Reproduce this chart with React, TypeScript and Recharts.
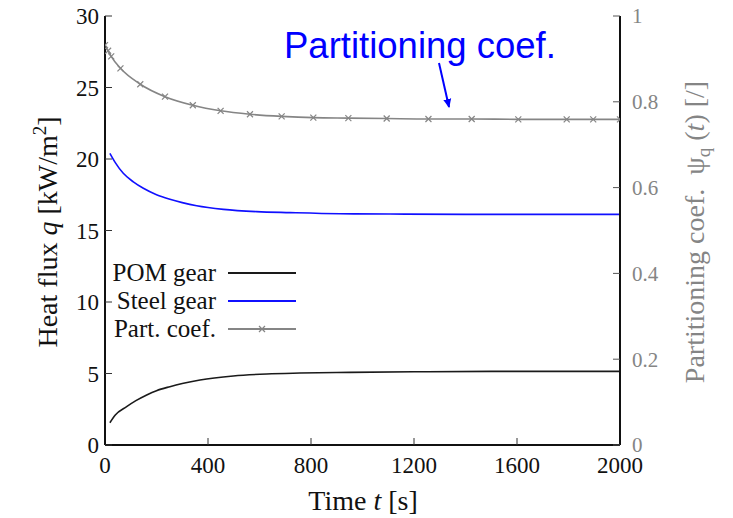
import React from 'react';
import { LineChart, Line, XAxis, YAxis } from 'recharts';

// 時間軸・目盛り
const timeTicks = [0, 400, 800, 1200, 1600, 2000];
const fluxTicks = [0, 5, 10, 15, 20, 25, 30];
const coefTicks = [0, 0.2, 0.4, 0.6, 0.8, 1];

// POM gear heat flux [kW/m2]
const pomTime = [19, 40, 84, 120, 162, 200, 252, 300, 369, 498, 628, 757, 951, 1200, 1500, 2000];
const pomFlux = [1.56, 2.1, 2.68, 3.1, 3.5, 3.8, 4.08, 4.3, 4.55, 4.83, 4.97, 5.03, 5.08, 5.12, 5.15, 5.15];

// Steel gear heat flux [kW/m2]
const steelTime = [19, 40, 71, 110, 149, 200, 252, 300, 356, 460, 589, 718, 913, 1107, 1400, 1700, 2000];
const steelFlux = [20.4, 19.75, 19.0, 18.4, 17.95, 17.5, 17.18, 16.95, 16.73, 16.48, 16.32, 16.25, 16.17, 16.15, 16.13, 16.13, 16.13];

// Partitioning coefficient psi_q(t) [-]
const coefTime = [0, 12, 24, 60, 137, 233, 341, 449, 563, 686, 809, 945, 1094, 1256, 1424, 1605, 1793, 1896, 2000];
const coefValue = [0.932, 0.919, 0.906, 0.878, 0.841, 0.812, 0.792, 0.779, 0.771, 0.766, 0.763, 0.762, 0.761, 0.76, 0.76, 0.759, 0.759, 0.759, 0.759];

const toPoints = (xs: number[], ys: number[]) => xs.map((t, i) => ({ t, v: ys[i] }));

const pomData = toPoints(pomTime, pomFlux);
const steelData = toPoints(steelTime, steelFlux);
const coefData = toPoints(coefTime, coefValue);

const SERIF = 'Liberation Serif';
const SANS = 'Liberation Sans';
const GRAY = '#858585';
const BLUE = '#1010ff';

const legendRows = [
  { name: 'POM gear', color: '#1a1a1a', marker: false },
  { name: 'Steel gear', color: BLUE, marker: false },
  { name: 'Part. coef.', color: GRAY, marker: true },
];

// × マーカー
const CrossDot = (props: any) => {
  const { cx, cy, index } = props;
  if (cx == null || cy == null) return null;
  const s = 3;
  return (
    <g key={`x-${index}`} stroke={GRAY} strokeWidth={1.2}>
      <line x1={cx - s} y1={cy - s} x2={cx + s} y2={cy + s} />
      <line x1={cx - s} y1={cy + s} x2={cx + s} y2={cy - s} />
    </g>
  );
};

const tickFont = { fontFamily: SERIF, fontSize: 23 };

export default function App() {
  return (
    <div style={{ position: 'absolute', left: 0, top: 0, width: 733, height: 518, background: '#fff' }}>
      <LineChart width={733} height={518} margin={{ top: 16, right: 0, bottom: 0, left: 0 }}>
        <XAxis
          dataKey="t"
          type="number"
          domain={[0, 2000]}
          ticks={timeTicks}
          allowDataOverflow
          height={73}
          tickSize={-7}
          tickMargin={19}
          axisLine={{ stroke: '#111', strokeWidth: 2 }}
          tickLine={{ stroke: '#333' }}
          tick={{ fill: '#111', style: tickFont }}
        />
        <XAxis
          xAxisId="top"
          orientation="top"
          dataKey="t"
          type="number"
          domain={[0, 2000]}
          ticks={timeTicks}
          height={0}
          tickSize={-7}
          tick={false}
          axisLine={{ stroke: '#111', strokeWidth: 2 }}
          tickLine={{ stroke: '#333' }}
        />
        <YAxis
          yAxisId="flux"
          domain={[0, 30]}
          ticks={fluxTicks}
          width={105}
          tickSize={-7}
          tickMargin={13}
          axisLine={{ stroke: '#111', strokeWidth: 2 }}
          tickLine={{ stroke: '#333' }}
          tick={{ fill: '#111', style: tickFont }}
        />
        <YAxis
          yAxisId="coef"
          orientation="right"
          domain={[0, 1]}
          ticks={coefTicks}
          width={113}
          tickSize={-7}
          tickMargin={19}
          axisLine={{ stroke: '#111', strokeWidth: 2 }}
          tickLine={{ stroke: '#555' }}
          tick={{ fill: GRAY, style: { fontFamily: SERIF, fontSize: 21 } }}
        />
        <Line
          yAxisId="coef"
          data={coefData}
          dataKey="v"
          type="monotone"
          stroke={GRAY}
          strokeWidth={1.6}
          dot={<CrossDot />}
          isAnimationActive={false}
        />
        <Line
          yAxisId="flux"
          data={steelData}
          dataKey="v"
          type="monotone"
          stroke={BLUE}
          strokeWidth={1.6}
          dot={false}
          isAnimationActive={false}
        />
        <Line
          yAxisId="flux"
          data={pomData}
          dataKey="v"
          type="monotone"
          stroke="#1a1a1a"
          strokeWidth={1.6}
          dot={false}
          isAnimationActive={false}
        />
      </LineChart>

      {/* 凡例・軸タイトル・注記 */}
      <svg width={733} height={518} style={{ position: 'absolute', left: 0, top: 0, pointerEvents: 'none' }}>
        {legendRows.map((r, i) => {
          const y = 273 + i * 28;
          return (
            <g key={r.name}>
              <text x={216} y={y + 8} textAnchor="end" style={{ fontFamily: SERIF, fontSize: 25 }} fill="#111">
                {r.name}
              </text>
              <line x1={228} y1={y} x2={296} y2={y} stroke={r.color} strokeWidth={2} />
              {r.marker && (
                <g stroke={r.color} strokeWidth={1.2}>
                  <line x1={259} y1={y - 3} x2={265} y2={y + 3} />
                  <line x1={259} y1={y + 3} x2={265} y2={y - 3} />
                </g>
              )}
            </g>
          );
        })}
        <text
          transform="translate(57 232) rotate(-90)"
          textAnchor="middle"
          style={{ fontFamily: SERIF, fontSize: 28 }}
          fill="#111"
        >
          Heat flux <tspan fontStyle="italic">q</tspan> [kW/m<tspan dy={-11} style={{ fontSize: 19 }}>2</tspan>
          <tspan dy={11}>]</tspan>
        </text>
        <text x={363} y={510} textAnchor="middle" style={{ fontFamily: SERIF, fontSize: 28 }} fill="#111">
          Time <tspan fontStyle="italic">t</tspan> [s]
        </text>
        <text
          transform="translate(704 232) rotate(-90)"
          textAnchor="middle"
          style={{ fontFamily: SERIF, fontSize: 28 }}
          fill={GRAY}
        >
          Partitioning coef.{'\u00a0\u00a0'}ψ<tspan dy={6} style={{ fontSize: 19 }}>q</tspan>
          <tspan dy={-6}> (</tspan>
          <tspan fontStyle="italic">t</tspan>) [/]
        </text>
        <text x={284} y={58} style={{ fontFamily: SANS, fontSize: 36.5 }} fill="#0000ff">
          Partitioning coef.
        </text>
        <defs>
          <marker id="ah" markerWidth={10} markerHeight={10} refX={8} refY={5} orient="auto" markerUnits="userSpaceOnUse">
            <path d="M0,1 L9,5 L0,9 Z" fill="#0000ff" />
          </marker>
        </defs>
        <line x1={439} y1={63} x2={449} y2={107} stroke="#0000ff" strokeWidth={2} markerEnd="url(#ah)" />
      </svg>
    </div>
  );
}
